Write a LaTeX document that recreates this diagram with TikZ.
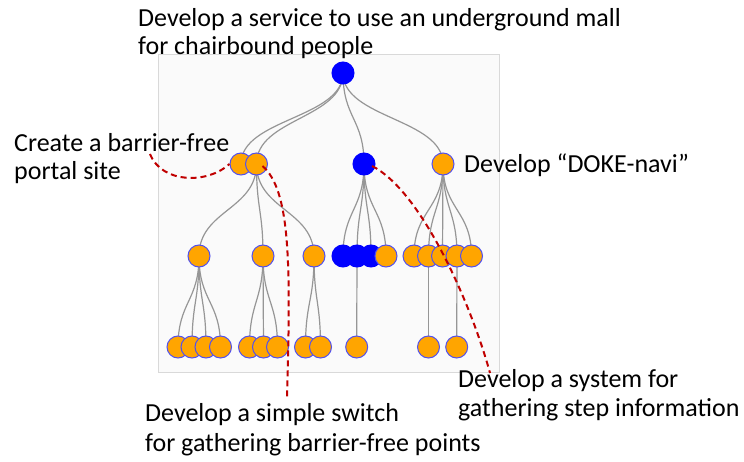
\documentclass[tikz,border=0pt]{standalone}
\usepackage{fontspec}
\setmainfont{Carlito}
\usetikzlibrary{calc}
\pgfdeclarelayer{panel}
\pgfdeclarelayer{links}
\pgfsetlayers{panel,links,main}
\definecolor{nodeor}{RGB}{255,165,0}
\definecolor{nodebl}{RGB}{0,0,255}
\definecolor{rimbl}{RGB}{80,80,240}
\definecolor{linkgray}{RGB}{150,150,150}
\definecolor{callred}{RGB}{192,0,0}
\definecolor{panelfill}{RGB}{250,250,250}
\definecolor{panelrim}{RGB}{217,217,217}
\tikzset{
  orn/.style={circle, minimum size=22pt, inner sep=0pt, fill=nodeor, draw=rimbl, line width=1pt},
  bln/.style={circle, minimum size=22pt, inner sep=0pt, fill=nodebl, draw=nodebl, line width=1pt},
  linkline/.style={draw=linkgray, line width=1.2pt},
  callout/.style={draw=callred, line width=2pt, dash pattern=on 6pt off 4pt},
  lbl/.style={anchor=base west, inner sep=0pt, font=\fontsize{26}{29}\selectfont, text=black},
}
\newcommand{\treelink}[2]{%
  \coordinate (mid) at ($(#1.center)!0.5!(#2.center)$);
  \draw[linkline] (#1.center) .. controls (#1.center |- mid) and (#2.center |- mid) .. (#2.center);}
\begin{document}
\begin{tikzpicture}[x=1pt,y=-1pt]
\useasboundingbox (0,0) rectangle (744,462);
\begin{pgfonlayer}{panel}
\draw[fill=panelfill, draw=panelrim, line width=0.8pt] (158,54.5) rectangle (499,372.5);
\end{pgfonlayer}
% texts
\node[lbl] (t1) at (138,26.7) {Develop a service to use an underground mall};
\node[lbl] (t2) at (138,55) {for chairbound people};
\node[lbl] (p1) at (14,151.7) {Create a barrier-free};
\node[lbl] (p2) at (14,180) {portal site};
\node[lbl] (dk) at (464,172.3) {Develop “DOKE-navi”};
\node[lbl] (s1) at (458,387.3) {Develop a system for};
\node[lbl] (s2) at (458,416.7) {gathering step information};
\node[lbl] (w1) at (145,421.7) {Develop a simple switch};
\node[lbl] (w2) at (145,451) {for gathering barrier-free points};
% nodes
\node[bln] (r) at (343,73) {};
\node[orn] (a1) at (241,164) {};
\node[orn] (a2) at (256.5,164) {};
\node[bln] (b) at (364,164) {};
\node[orn] (c) at (443,164) {};
\node[orn] (a21) at (199,256) {};
\node[orn] (a22) at (263,256) {};
\node[orn] (a23) at (314,256) {};
\node[bln] (b1) at (343,256) {};
\node[bln] (b2) at (357,256) {};
\node[bln] (b3) at (371,256) {};
\node[orn] (b4) at (386,256) {};
\node[orn] (c1) at (414,256) {};
\node[orn] (c2) at (428.5,256) {};
\node[orn] (c3) at (442.5,256) {};
\node[orn] (c4) at (457,256) {};
\node[orn] (c5) at (471.5,256) {};
\node[orn] (d1) at (178,347) {};
\node[orn] (d2) at (192,347) {};
\node[orn] (d3) at (206,347) {};
\node[orn] (d4) at (220.5,347) {};
\node[orn] (e1) at (249.5,347) {};
\node[orn] (e2) at (263.5,347) {};
\node[orn] (e3) at (277.5,347) {};
\node[orn] (f1) at (305.5,347) {};
\node[orn] (f2) at (320.5,347) {};
\node[orn] (g) at (356.7,347) {};
\node[orn] (h1) at (428.5,347) {};
\node[orn] (h2) at (456.7,347) {};
% links
\begin{pgfonlayer}{links}
\foreach \ch in {a1,a2,b,c} {\treelink{r}{\ch}}
\foreach \ch in {a21,a22,a23} {\treelink{a2}{\ch}}
\foreach \ch in {b1,b2,b3,b4} {\treelink{b}{\ch}}
\foreach \ch in {c1,c2,c3,c4,c5} {\treelink{c}{\ch}}
\foreach \ch in {d1,d2,d3,d4} {\treelink{a21}{\ch}}
\foreach \ch in {e1,e2,e3} {\treelink{a22}{\ch}}
\foreach \ch in {f1,f2} {\treelink{a23}{\ch}}
\treelink{b2}{g}
\treelink{c2}{h1}
\treelink{c4}{h2}
\end{pgfonlayer}
% callouts
\coordinate (q1) at (150,154);
\coordinate (q2) at (287,398);
\coordinate (q3) at (490,373);
\draw[callout] (q1) .. controls (162,184) and (208,184) .. (a1.center -| a1.west) ;
\draw[callout] ($(a2.center)+(6,2)$) .. controls (290,190) and (291,260) .. (q2);
\draw[callout] ($(b.center)+(8,2)$) .. controls (420,190) and (470,300) .. (q3);
\end{tikzpicture}
\end{document}
